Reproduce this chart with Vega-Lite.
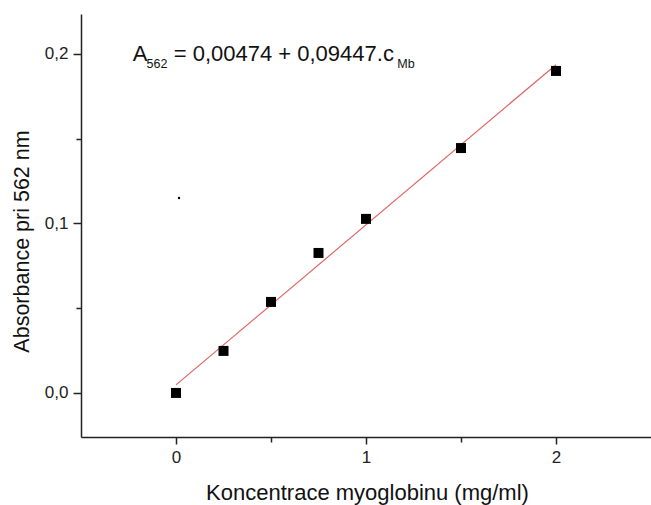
{
  "$schema": "https://vega.github.io/schema/vega-lite/v6.json",
  "width": 570,
  "height": 423,
  "autosize": {"type": "none"},
  "padding": {"left": 81, "top": 14, "right": 0, "bottom": 68},
  "background": "white",
  "config": {
    "view": {"stroke": null},
    "font": "Liberation Sans",
    "axis": {"grid": false, "domainColor": "#222", "domainWidth": 1.5, "tickColor": "#222", "tickWidth": 1.5, "labelFont": "Liberation Sans", "titleFont": "Liberation Sans", "labelColor": "#222", "titleColor": "#111", "titleFontWeight": "normal"}
  },
  "datasets": {
    "points": [
      {"c": 0, "a": 0.0},
      {"c": 0.25, "a": 0.0248},
      {"c": 0.5, "a": 0.0537},
      {"c": 0.75, "a": 0.0826},
      {"c": 1, "a": 0.1027},
      {"c": 1.5, "a": 0.1445},
      {"c": 2, "a": 0.190}
    ],
    "fit": [
      {"c": 0, "a": 0.00474},
      {"c": 2, "a": 0.19368}
    ],
    "stray": [
      {"c": 0.016, "a": 0.115}
    ],
    "labels": [
      {"c": -0.228, "a": 0.1956, "t": "A", "size": "big"},
      {"c": -0.155, "a": 0.1917, "t": "562", "size": "small"},
      {"c": -0.012, "a": 0.1956, "t": "= 0,00474 + 0,09447.c", "size": "big"},
      {"c": 1.165, "a": 0.1917, "t": "Mb", "size": "small"}
    ]
  },
  "resolve": {"axis": {"x": "independent", "y": "independent"}},
  "layer": [
    {
      "data": {"name": "fit"},
      "mark": {"type": "line", "color": "#e06666", "strokeWidth": 1.2},
      "encoding": {
        "x": {"field": "c", "type": "quantitative",
              "scale": {"domain": [-0.5, 2.5], "nice": false, "zero": false},
              "axis": {"orient": "bottom", "values": [0, 1, 2], "format": "d", "tickSize": 7,
                       "labelFontSize": 17, "labelPadding": 5,
                       "title": "Koncentrace myoglobinu (mg/ml)", "titleFontSize": 22, "titleBaseline": "alphabetic", "titleX": 286, "titleY": 62}},
        "y": {"field": "a", "type": "quantitative",
              "scale": {"domain": [-0.026, 0.2236], "nice": false, "zero": false},
              "axis": {"orient": "left", "values": [0, 0.1, 0.2], "tickSize": 8,
                       "labelExpr": "replace(format(datum.value, '.1f'), '.', ',')",
                       "labelFontSize": 17, "labelPadding": 5,
                       "title": "Absorbance pri 562 nm", "titleFontSize": 21.5, "titleAngle": -90, "titleBaseline": "middle", "titleAlign": "center", "titleX": -59, "titleY": 227}}
      }
    },
    {
      "data": {"name": "stray"},
      "mark": {"type": "point", "filled": true, "color": "black", "size": 6, "opacity": 1},
      "encoding": {
        "x": {"field": "c", "type": "quantitative",
              "axis": {"orient": "bottom", "values": [0.5, 1.5], "labels": false, "domain": false, "ticks": true, "tickSize": 5, "tickColor": "#222", "title": null, "offset": 0}},
        "y": {"field": "a", "type": "quantitative",
              "axis": {"orient": "left", "values": [0.05, 0.15], "labels": false, "domain": false, "ticks": true, "tickSize": 5, "tickColor": "#222", "title": null, "offset": 0}}
      }
    },
    {
      "data": {"name": "points"},
      "mark": {"type": "square", "filled": true, "color": "black", "size": 100, "opacity": 1},
      "encoding": {
        "x": {"field": "c", "type": "quantitative", "axis": null},
        "y": {"field": "a", "type": "quantitative", "axis": null}
      }
    },
    {
      "data": {"name": "labels"},
      "transform": [{"filter": "datum.size === 'big'"}],
      "mark": {"type": "text", "align": "left", "baseline": "alphabetic", "color": "#111", "font": "Liberation Sans", "fontSize": 22},
      "encoding": {
        "x": {"field": "c", "type": "quantitative", "axis": null},
        "y": {"field": "a", "type": "quantitative", "axis": null},
        "text": {"field": "t"}
      }
    },
    {
      "data": {"name": "labels"},
      "transform": [{"filter": "datum.size === 'small'"}],
      "mark": {"type": "text", "align": "left", "baseline": "alphabetic", "color": "#111", "font": "Liberation Sans", "fontSize": 12.5},
      "encoding": {
        "x": {"field": "c", "type": "quantitative", "axis": null},
        "y": {"field": "a", "type": "quantitative", "axis": null},
        "text": {"field": "t"}
      }
    }
  ]
}
